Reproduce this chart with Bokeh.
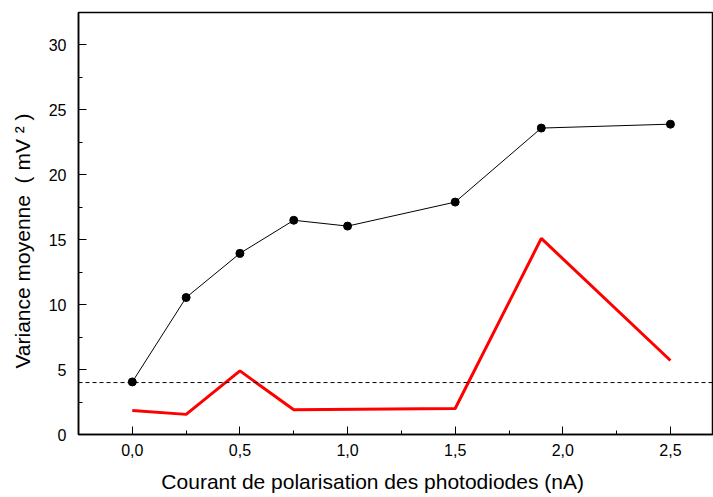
from bokeh.plotting import figure
from bokeh.models import Range1d, Span, FixedTicker, CustomJSTickFormatter
from bokeh.embed import file_html
from bokeh.resources import INLINE

# Data
x_black = [0.0, 0.25, 0.5, 0.75, 1.0, 1.5, 1.9, 2.5]
y_black = [4.05, 10.55, 13.95, 16.5, 16.05, 17.9, 23.6, 23.9]
x_red = [0.0, 0.25, 0.5, 0.75, 1.5, 1.9, 2.5]
y_red = [1.85, 1.55, 4.9, 1.9, 2.0, 15.1, 5.7]
threshold = 4.0
x_ticks = [0.0, 0.5, 1.0, 1.5, 2.0, 2.5]
x_minor = [-0.25, 0.25, 0.75, 1.25, 1.75, 2.25]
y_ticks = [0, 5, 10, 15, 20, 25, 30]
y_minor = [2.5, 7.5, 12.5, 17.5, 22.5, 27.5, 32.5]

FONT = "Liberation Sans"
NB = "\u00a0"

p = figure(width=713, height=497, output_backend="svg", toolbar_location=None,
           x_range=Range1d(-0.25, 2.7), y_range=Range1d(0, 32.5),
           min_border_left=78, min_border_right=0, min_border_top=12,
           min_border_bottom=63)
p.grid.visible = False
p.outline_line_color = "black"
p.outline_line_width = 1.5
p.background_fill_color = "white"
p.border_fill_color = "white"

p.xaxis.ticker = FixedTicker(ticks=x_ticks, minor_ticks=x_minor)
p.yaxis.ticker = FixedTicker(ticks=y_ticks, minor_ticks=y_minor)
p.xaxis.formatter = CustomJSTickFormatter(code="return tick.toFixed(1).replace('.', ',');")

for ax in (p.xaxis[0], p.yaxis[0]):
    ax.axis_line_width = 1.5
    ax.axis_line_color = "black"
    ax.major_tick_in = 8
    ax.major_tick_out = 0
    ax.minor_tick_in = 4
    ax.minor_tick_out = 0
    ax.major_tick_line_color = "black"
    ax.minor_tick_line_color = "black"
    ax.major_label_text_font = FONT
    ax.major_label_text_font_size = "16px"
    ax.major_label_text_color = "black"
    ax.axis_label_text_font = FONT
    ax.axis_label_text_font_size = "21px"
    ax.axis_label_text_font_style = "normal"
    ax.axis_label_text_color = "black"

p.xaxis.axis_label = "Courant de polarisation des photodiodes (nA)" + NB * 8
p.yaxis.axis_label = "Variance moyenne" + NB * 2 + "(" + NB + "mV" + NB + "\u00b2" + NB + ")" + NB * 6
p.xaxis.major_label_standoff = 9
p.xaxis.axis_label_standoff = 11
p.yaxis.major_label_standoff = 12
p.yaxis.axis_label_standoff = 12

p.add_layout(Span(location=threshold, dimension="width", line_color="black",
                  line_width=1, line_dash="4 3"))

p.line(x_black, y_black, line_color="black", line_width=1)
p.scatter(x_black, y_black, size=8, color="black")
p.line(x_red, y_red, line_color="#ff0000", line_width=3)

open("out.html", "w").write(file_html(p, INLINE))
